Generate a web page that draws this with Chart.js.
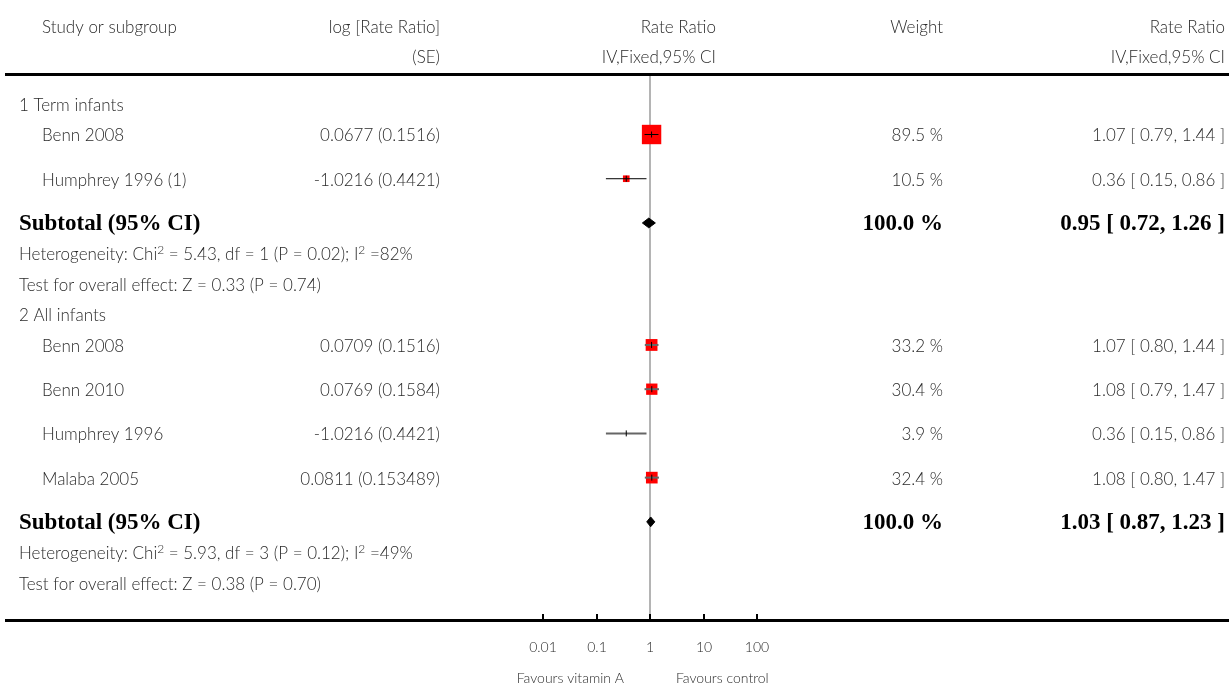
<!DOCTYPE html>
<html>
<head>
    <title>Forest plot - Rate Ratio</title>
    <meta charset="utf-8">
    <script src="https://cdn.jsdelivr.net/npm/chart.js@4.4.0/dist/chart.umd.min.js"></script>
    <style>
        body { margin: 0; background: #fff; }
        .chart-container { position: relative; width: 1229px; height: 685px; }
    </style>
</head>
<body>
    <div class="chart-container">
        <canvas id="forest-chart"></canvas>
    </div>

    <script>
        // Datos de los estudios
        const groupNames = ['1 Term infants', '2 All infants'];
        const studyNames = ['Benn 2008', 'Humphrey 1996 (1)', 'Benn 2008', 'Benn 2010', 'Humphrey 1996', 'Malaba 2005'];
        const studyGroup = [0, 0, 1, 1, 1, 1];
        const logRR = ['0.0677', '-1.0216', '0.0709', '0.0769', '-1.0216', '0.0811'];
        const logSE = ['0.1516', '0.4421', '0.1516', '0.1584', '0.4421', '0.153489'];
        const rateRatio = [1.07, 0.36, 1.07, 1.08, 0.36, 1.08];
        const ciLow = [0.79, 0.15, 0.80, 0.79, 0.15, 0.80];
        const ciHigh = [1.44, 0.86, 1.44, 1.47, 0.86, 1.47];
        const weights = [89.5, 10.5, 33.2, 30.4, 3.9, 32.4];

        // Subtotales
        const subRR = [0.95, 1.03];
        const subLow = [0.72, 0.87];
        const subHigh = [1.26, 1.23];
        const hetChi2 = ['5.43', '5.93'];
        const hetDf = ['1', '3'];
        const hetP = ['0.02', '0.12'];
        const hetI2 = ['82', '49'];
        const zValue = ['0.33', '0.38'];
        const zP = ['0.74', '0.70'];

        // Eje
        const tickValues = [0.01, 0.1, 1, 10, 100];
        const tickLabels = ['0.01', '0.1', '1', '10', '100'];

        const fmt = v => v.toFixed(2);

        // Filas (orden vertical)
        const rows = [];
        groupNames.forEach((g, gi) => {
            rows.push({type: 'group', g: gi});
            studyNames.forEach((s, i) => { if (studyGroup[i] === gi) rows.push({type: 'study', i: i}); });
            rows.push({type: 'subtotal', g: gi});
            rows.push({type: 'het', g: gi});
            rows.push({type: 'test', g: gi});
        });
        let pos = 0;
        rows.forEach((r, k) => {
            if (k > 0) pos += rows[k - 1].type === 'study' ? 1.45 : 1;
            r.y = pos;
        });
        const studyY = [];
        const subY = [];
        rows.forEach(r => {
            if (r.type === 'study') studyY[r.i] = r.y;
            if (r.type === 'subtotal') subY[r.g] = r.y;
        });

        const yMin = -0.951;
        const yMax = 16.918;

        const datasets = [];
        // linea de no efecto
        datasets.push({
            type: 'line', data: [{x: 1, y: yMin}, {x: 1, y: yMax}],
            borderColor: '#b4b4b4', borderWidth: 2, pointRadius: 0, order: 10
        });
        // intervalos de confianza
        studyNames.forEach((s, i) => {
            datasets.push({
                type: 'line', data: [{x: ciLow[i], y: studyY[i]}, {x: ciHigh[i], y: studyY[i]}],
                borderColor: studyGroup[i] === 0 ? '#000' : '#666', borderWidth: studyGroup[i] === 0 ? 1 : 2,
                pointRadius: 0, order: 1
            });
        });
        // cuadros por peso
        datasets.push({
            type: 'scatter',
            data: studyNames.map((s, i) => ({x: rateRatio[i], y: studyY[i]})),
            pointStyle: 'rect',
            pointRadius: weights.map(w => { const side = 2.05 * Math.sqrt(w); return side < 5 ? 0 : side / Math.SQRT2; }),
            backgroundColor: '#ff0000', borderWidth: 0, order: 2
        });
        // estimacion puntual
        datasets.push({
            type: 'scatter',
            data: studyNames.map((s, i) => ({x: rateRatio[i], y: studyY[i]})),
            pointStyle: 'line', rotation: 90, pointRadius: 3,
            borderColor: '#000', borderWidth: 1, order: 0
        });
        // diamantes de subtotal
        const dh = 0.16;
        subRR.forEach((v, g) => {
            const y = subY[g];
            datasets.push({
                type: 'line',
                data: [{x: subLow[g], y: y}, {x: v, y: y - dh}, {x: subHigh[g], y: y}, {x: v, y: y + dh}, {x: subLow[g], y: y}],
                borderColor: '#000', borderWidth: 1, backgroundColor: '#000', fill: 'shape',
                pointRadius: 0, order: 0
            });
        });

        const SANS = 'Lato, "Open Sans", sans-serif';
        const SERIF = '"Liberation Serif", "DejaVu Serif", serif';
        const TXT = '#2a2a2a';
        const F = '300 17px ' + SANS;
        const DY = 1.5; // ajuste vertical del texto

        function drawRich(ctx, parts, x, y) {
            let cx = x;
            parts.forEach(p => {
                if (p.sup) {
                    ctx.font = '300 12px ' + SANS;
                    ctx.fillText(p.t, cx, y - 5);
                } else {
                    ctx.font = F;
                    ctx.fillText(p.t, cx, y);
                }
                cx += ctx.measureText(p.t).width;
            });
        }

        const textPlugin = {
            id: 'forestText',
            afterDraw(chart) {
                const ctx = chart.ctx;
                const ys = chart.scales.y;
                const xs = chart.scales.x;
                const area = chart.chartArea;
                ctx.save();
                ctx.fillStyle = TXT;
                ctx.textBaseline = 'middle';

                // encabezados
                ctx.font = F;
                ctx.textAlign = 'left';
                ctx.fillText('Study or subgroup', 42, 26 + DY);
                ctx.textAlign = 'right';
                ctx.fillText('log [Rate Ratio]', 440, 26 + DY);
                ctx.fillText('(SE)', 440, 56 + DY);
                ctx.fillText('Rate Ratio', 716, 26 + DY);
                ctx.fillText('IV,Fixed,95% CI', 716, 56 + DY);
                ctx.fillText('Weight', 943, 26 + DY);
                ctx.fillText('Rate Ratio', 1225, 26 + DY);
                ctx.fillText('IV,Fixed,95% CI', 1225, 56 + DY);

                rows.forEach(r => {
                    const y = ys.getPixelForValue(r.y) + DY;
                    if (r.type === 'group') {
                        ctx.font = F; ctx.textAlign = 'left';
                        ctx.fillText(groupNames[r.g], 19, y);
                    } else if (r.type === 'study') {
                        const i = r.i;
                        ctx.font = F; ctx.textAlign = 'left';
                        ctx.fillText(studyNames[i], 42, y);
                        ctx.textAlign = 'right';
                        ctx.fillText(logRR[i] + ' (' + logSE[i] + ')', 440, y);
                        ctx.fillText(weights[i].toFixed(1) + ' %', 943, y);
                        ctx.fillText(fmt(rateRatio[i]) + ' [ ' + fmt(ciLow[i]) + ', ' + fmt(ciHigh[i]) + ' ]', 1225, y);
                    } else if (r.type === 'subtotal') {
                        const g = r.g;
                        ctx.font = 'bold 23px ' + SERIF; ctx.textAlign = 'left';
                        ctx.fillStyle = '#000';
                        ctx.fillText('Subtotal (95% CI)', 19, y);
                        ctx.textAlign = 'right';
                        ctx.fillText('100.0 %', 943, y);
                        ctx.fillText(fmt(subRR[g]) + ' [ ' + fmt(subLow[g]) + ', ' + fmt(subHigh[g]) + ' ]', 1225, y);
                        ctx.fillStyle = TXT;
                    } else if (r.type === 'het') {
                        const g = r.g;
                        ctx.textAlign = 'left';
                        drawRich(ctx, [
                            {t: 'Heterogeneity: Chi'}, {t: '2', sup: true},
                            {t: ' = ' + hetChi2[g] + ', df = ' + hetDf[g] + ' (P = ' + hetP[g] + '); I'},
                            {t: '2', sup: true}, {t: ' =' + hetI2[g] + '%'}
                        ], 19, y);
                    } else if (r.type === 'test') {
                        const g = r.g;
                        ctx.font = F; ctx.textAlign = 'left';
                        ctx.fillText('Test for overall effect: Z = ' + zValue[g] + ' (P = ' + zP[g] + ')', 19, y);
                    }
                });

                // reglas horizontales
                ctx.fillStyle = '#000';
                ctx.fillRect(5, area.top - 2, 1224, 3);
                ctx.fillRect(5, area.bottom - 1, 1224, 3);

                // marcas y etiquetas del eje
                ctx.font = '300 14px ' + SANS;
                ctx.textAlign = 'center';
                tickValues.forEach((v, k) => {
                    const px = Math.round(xs.getPixelForValue(v));
                    ctx.fillStyle = '#000';
                    ctx.fillRect(px - 1, area.bottom - 6, 2, 6);
                    ctx.fillStyle = TXT;
                    ctx.fillText(tickLabels[k], px, 647);
                });
                const x1 = xs.getPixelForValue(1);
                ctx.textAlign = 'right';
                ctx.fillText('Favours vitamin A', x1 - 26, 678);
                ctx.textAlign = 'left';
                ctx.fillText('Favours control', x1 + 26, 678);
                ctx.restore();
            }
        };

        const ctx = document.getElementById('forest-chart').getContext('2d');
        const chart = new Chart(ctx, {
            type: 'scatter',
            data: {datasets: datasets},
            options: {
                responsive: true,
                maintainAspectRatio: false,
                animation: false,
                layout: {padding: {left: 543, right: 472, top: 75, bottom: 65}},
                scales: {
                    x: {type: 'logarithmic', min: 0.01, max: 100, display: false},
                    y: {type: 'linear', min: yMin, max: yMax, reverse: true, display: false}
                },
                plugins: {
                    legend: {display: false},
                    tooltip: {enabled: false}
                }
            },
            plugins: [textPlugin]
        });
    </script>
</body>
</html>
